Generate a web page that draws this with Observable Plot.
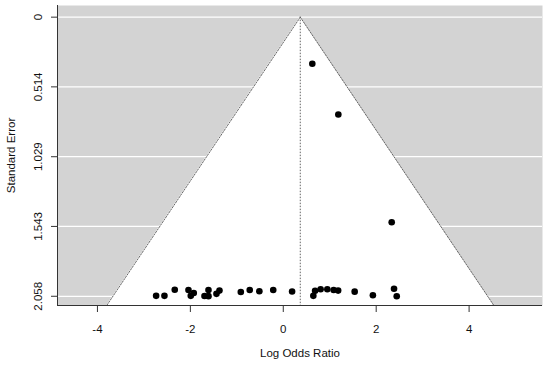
<!DOCTYPE html>
<html>
<head>
<meta charset="utf-8">
<script src="https://cdn.jsdelivr.net/npm/d3@7"></script>
<script src="https://cdn.jsdelivr.net/npm/@observablehq/plot@0.6"></script>
<style>
  html, body { margin: 0; padding: 0; background: #fff; }
  svg { display: block; }
</style>
</head>
<body>
<div id="chart"></div>
<script>
// Study estimates (log odds ratio) and standard errors
const logOR = [-2.737, -2.558, -2.336, -2.041, -1.991, -1.927, -1.696, -1.610, -1.610, -1.438, -1.373,
  -0.914, -0.722, -0.515, -0.216, 0.190, 0.647, 0.685, 0.804, 0.948, 1.084, 1.181, 1.537, 1.929,
  2.384, 2.442, 0.625, 1.185, 2.334];
const stdErr = [2.055, 2.055, 2.010, 2.012, 2.055, 2.034, 2.056, 2.012, 2.057, 2.040, 2.016,
  2.027, 2.012, 2.021, 2.012, 2.023, 2.055, 2.018, 2.006, 2.006, 2.012, 2.016, 2.024, 2.050,
  2.003, 2.058, 0.344, 0.718, 1.512];
const pooled = 0.366;
const yTickValues = [0, 0.514, 1.029, 1.543, 2.058];
const yTickLabels = ["0", "0.514", "1.029", "1.543", "2.058"];
const xTickValues = [-4, -2, 0, 2, 4];

const xDomain = [-4.86, 5.58];
const yDomain = [-0.086, 2.126];
const z = 1.96;

const points = logOR.map((x, i) => ({x, se: stdErr[i]}));
const funnel = [0, yDomain[1]].map(se => ({se, lb: pooled - z * se, ub: pooled + z * se}));
const yTicks = yTickValues.map((v, i) => ({v, label: yTickLabels[i]}));

const font = "'Liberation Sans', Arial, Helvetica, sans-serif";
const ink = "#111";

const chart = Plot.plot({
  width: 550,
  height: 368,
  marginLeft: 57,
  marginRight: 8,
  marginTop: 5,
  marginBottom: 63,
  style: {fontFamily: font, fontSize: "11.5px", color: ink, background: "#fff"},
  x: {domain: xDomain, ticks: xTickValues},
  y: {domain: yDomain, reverse: true},
  marks: [
    Plot.frame({fill: "#d3d3d3", stroke: null}),
    Plot.ruleY(yTickValues, {stroke: "white", strokeWidth: 1.2}),
    Plot.areaX(funnel, {y: "se", x1: "lb", x2: "ub", fill: "white"}),
    Plot.line(funnel, {x: "lb", y: "se", stroke: "#666", strokeDasharray: "1.5,1.5", strokeWidth: 1}),
    Plot.line(funnel, {x: "ub", y: "se", stroke: "#666", strokeDasharray: "1.5,1.5", strokeWidth: 1}),
    Plot.ruleX([pooled], {y1: 0, y2: yDomain[1], stroke: "#666", strokeDasharray: "1.5,1.5", strokeWidth: 1}),
    Plot.dot(points, {x: "x", y: "se", r: 3.3, fill: "black", stroke: null}),
    Plot.ruleX([xDomain[0]], {stroke: "#333", strokeWidth: 1}),
    Plot.ruleY([yDomain[1]], {stroke: "#333", strokeWidth: 1}),
    Plot.axisX({ticks: xTickValues, tickSize: 7, tickPadding: 12, label: null, stroke: "#333", fill: ink, fontSize: "11.5px", tickFormat: d => d < 0 ? "-" + Math.abs(d) : String(d)}),
    Plot.axisY({ticks: yTickValues, tickSize: 6, tickFormat: () => "", label: null, stroke: "#333"}),
    Plot.text(yTicks, {y: "v", text: "label", frameAnchor: "left", textAnchor: "middle", dx: -19, rotate: -90, fill: ink, fontSize: 11.5}),
    Plot.text(["Standard Error"], {frameAnchor: "left", textAnchor: "middle", dx: -46, rotate: -90, fill: ink, fontSize: 11.5}),
    Plot.text(["Log Odds Ratio"], {frameAnchor: "bottom", dy: 51, fill: ink, fontSize: 11.5})
  ]
});
document.getElementById("chart").appendChild(chart);
</script>
</body>
</html>
